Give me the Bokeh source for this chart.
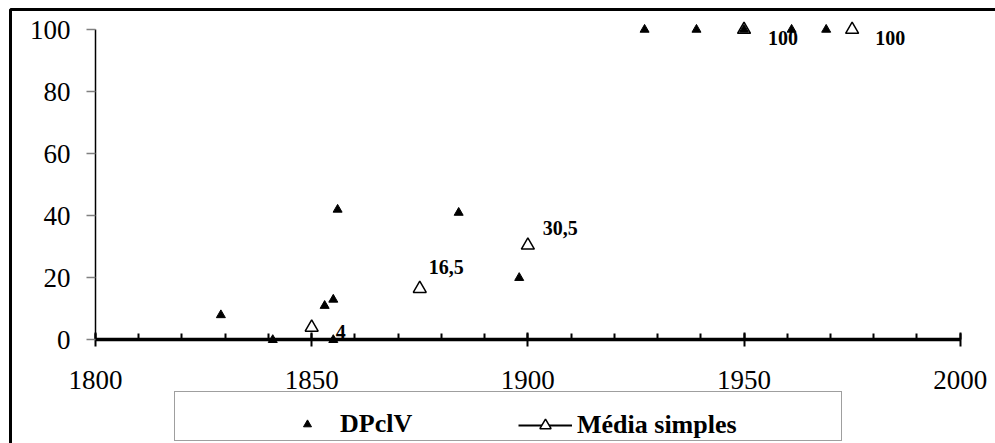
from bokeh.plotting import figure
from bokeh.models import (Range1d, SingleIntervalTicker, Legend, LegendItem,
                          ColumnDataSource, BoxAnnotation)
from bokeh.core.properties import value
from bokeh.embed import file_html
from bokeh.resources import INLINE

# ---- data ----
dp_years = [1829, 1841, 1853, 1855, 1855, 1856, 1884, 1898, 1927, 1939, 1950, 1961, 1969]
dp_values = [8, 0, 11, 13, 0, 42, 41, 20, 100, 100, 100, 100, 100]

media_years = [1850, 1875, 1900, 1950, 1975]
media_values = [4, 16.5, 30.5, 100, 100]
media_labels = ["4", "16,5", "30,5", "100", "100"]

series_names = ["DPclV", "Média simples"]

# ---- style (label offsets in screen px) ----
label_dx = [24, 9, 15, 24, 23]
label_dy = [5, -22, -17, 8, 8]

FONT = "Liberation Serif"
NAN = float("nan")
W, H = 995, 443

p = figure(width=W, height=H, output_backend="svg", toolbar_location=None,
           x_range=Range1d(1778.03, 2008.16), y_range=Range1d(-33.39, 109.38),
           min_border=0, min_border_left=0, min_border_right=0,
           min_border_top=0, min_border_bottom=0)
p.grid.visible = False
p.outline_line_color = None
p.background_fill_color = "white"
p.border_fill_color = "white"

# x axis (drawn at y = 0, limited to 1800-2000)
xa = p.xaxis[0]
xa.ticker = SingleIntervalTicker(interval=50, num_minor_ticks=5)
xa.fixed_location = 0
xa.bounds = (1800, 2000)
xa.axis_line_width = 3.5
xa.axis_line_color = "black"
xa.major_tick_line_width = 2
xa.major_tick_in = 7
xa.major_tick_out = 7
xa.minor_tick_line_width = 2
xa.minor_tick_in = 6
xa.minor_tick_out = 0
xa.major_label_standoff = 24
xa.major_label_text_font = FONT
xa.major_label_text_font_size = "27px"
xa.major_label_text_color = "black"

# y axis (drawn at x = 1800, limited to 0-100)
ya = p.yaxis[0]
ya.ticker = SingleIntervalTicker(interval=20, num_minor_ticks=0)
ya.fixed_location = 1800
ya.bounds = (0, 100)
ya.axis_line_width = 1.5
ya.axis_line_color = "black"
ya.major_tick_line_color = "#808080"
ya.major_tick_line_width = 1.5
ya.major_tick_in = 0
ya.major_tick_out = 9
ya.minor_tick_line_color = None
ya.major_label_standoff = 16
ya.major_label_text_font = FONT
ya.major_label_text_font_size = "27px"
ya.major_label_text_color = "black"

# outer chart border (only its left and top edges are in view)
p.add_layout(BoxAnnotation(left=10, right=W + 100, top=H - 9, bottom=-100,
                           left_units="screen", right_units="screen",
                           top_units="screen", bottom_units="screen",
                           fill_alpha=0, line_color="black", line_width=3,
                           line_alpha=1))

media_src = ColumnDataSource(dict(x=media_years, y=media_values, label=media_labels,
                                  dx=label_dx, dy=label_dy))

r_media = p.scatter("x", "y", source=media_src, marker="triangle", size=13,
                    fill_color="white", line_color="black", line_width=1.5)
r_dp = p.scatter(dp_years, dp_values, marker="triangle", size=9,
                 fill_color="black", line_color="black")
p.text("x", "y", text="label", source=media_src, x_offset="dx", y_offset="dy",
       text_font=value(FONT), text_font_style="bold", text_font_size="20px",
       text_baseline="alphabetic", text_align="left", text_color="black")

# legend helpers (renderers with no visible data, only used for legend drawing)
r_line = p.line(x=[NAN], y=[NAN], line_color="black", line_width=2)
r_box = p.scatter(x=[NAN], y=[NAN], fill_alpha=0, line_alpha=0)

box_legend = Legend(items=[LegendItem(label=" ", renderers=[r_box])],
                    location=(174, 2), orientation="horizontal",
                    glyph_width=666, glyph_height=48, padding=0, margin=0,
                    label_standoff=0, label_width=0, label_height=0,
                    label_text_font_size="1px",
                    border_line_color="#404040", border_line_width=1.5,
                    background_fill_alpha=0)
p.add_layout(box_legend, "center")

leg_a = Legend(items=[LegendItem(label=series_names[0], renderers=[r_dp])],
               location=(280, 4), orientation="horizontal",
               glyph_width=54, glyph_height=20, padding=0, margin=0,
               label_standoff=6, label_text_font=FONT, label_text_font_style="bold",
               label_text_font_size="26px", label_text_color="black",
               border_line_alpha=0, background_fill_alpha=0)
p.add_layout(leg_a, "center")

leg_b = Legend(items=[LegendItem(label=series_names[1], renderers=[r_line, r_media])],
               location=(518, 3), orientation="horizontal",
               glyph_width=54, glyph_height=28, padding=0, margin=0,
               label_standoff=5, label_text_font=FONT, label_text_font_style="bold",
               label_text_font_size="26px", label_text_color="black",
               border_line_alpha=0, background_fill_alpha=0)
p.add_layout(leg_b, "center")

open("out.html", "w").write(file_html(p, INLINE))
